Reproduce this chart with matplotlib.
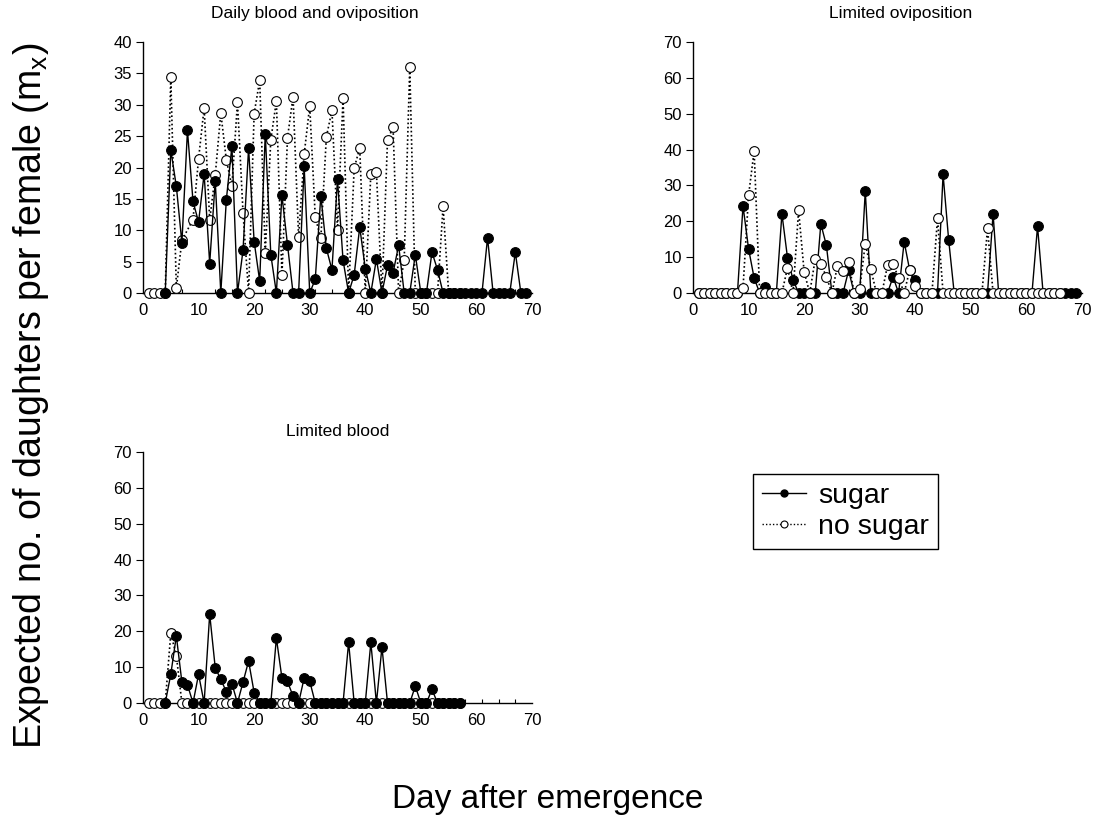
import numpy as np
import matplotlib
matplotlib.use("Agg")
import matplotlib.pyplot as plt
from matplotlib.lines import Line2D
from matplotlib.ticker import FixedLocator

plt.rcParams['font.family'] = ['Liberation Sans', 'DejaVu Sans']
plt.rcParams['mathtext.fontset'] = 'custom'
plt.rcParams['mathtext.rm'] = 'Liberation Sans'

# Daily blood and oviposition
days_a_sugar = list(range(4, 70))
a_sugar = [0, 22.8, 17.0, 8.0, 25.9, 14.6, 11.3, 19.0, 4.7, 17.9,
           0, 14.9, 23.4, 0, 6.8, 23.1, 8.2, 1.9, 25.4, 6.1,
           0, 15.6, 7.7, 0, 0, 20.2, 0, 2.2, 15.5, 7.1,
           3.7, 18.1, 5.2, 0, 2.9, 10.5, 3.9, 0, 5.4, 0,
           4.4, 3.2, 7.6, 0, 0, 6.1, 0, 0, 6.5, 3.7,
           0, 0, 0, 0, 0, 0, 0, 0, 8.8, 0,
           0, 0, 0, 6.5, 0, 0]
days_a_nosugar = [1, 2, 3, 4, 5, 6, 7] + list(range(9, 58))
a_nosugar = [0, 0, 0, 0, 34.4, 0.8, 8.4,
             11.7, 21.4, 29.5, 11.7, 18.8, 28.7, 21.2, 17.0, 30.4, 12.8,
             0, 28.6, 33.9, 6.4, 24.4, 30.6, 2.8, 24.7, 31.3, 8.9,
             22.1, 29.8, 12.1, 8.7, 24.9, 29.1, 10.1, 31.1, 0, 19.9,
             23.1, 0, 19.0, 19.3, 0, 24.4, 26.4, 0, 5.2, 36.0,
             0, 0, 0, 0, 0, 13.8, 0, 0, 0]

# Limited oviposition
days_b_sugar = list(range(1, 70))
b_sugar = [0, 0, 0, 0, 0, 0, 0, 0, 24.3, 12.3,
           4.2, 0, 1.7, 0, 0, 22.1, 9.9, 3.7, 0, 0,
           0, 0, 19.3, 13.3, 0, 0, 0, 6.3, 0, 0,
           28.5, 0, 0, 0, 0, 4.5, 0, 14.3, 6.3, 3.5,
           0, 0, 0, 0, 33.1, 14.9, 0, 0, 0, 0,
           0, 0, 0, 22.1, 0, 0, 0, 0, 0, 0,
           0, 18.6, 0, 0, 0, 0, 0, 0, 0]
days_b_nosugar = list(range(1, 67))
b_nosugar = [0, 0, 0, 0, 0, 0, 0, 0, 1.4, 27.2,
             39.6, 0, 0, 0, 0, 0, 7.0, 0, 23.1, 5.9,
             0, 9.5, 8.2, 4.5, 0, 7.6, 6.2, 8.6, 0, 1.2,
             13.8, 6.7, 0, 0, 7.7, 8.1, 4.2, 0, 6.5, 2.0,
             0, 0, 0, 20.8, 0, 0, 0, 0, 0, 0,
             0, 0, 18.0, 0, 0, 0, 0, 0, 0, 0,
             0, 0, 0, 0, 0, 0]

# Limited blood
days_c_sugar = list(range(4, 58))
c_sugar = [0, 8.0, 18.7, 5.8, 5.1, 0, 8.0, 0, 24.8, 9.8,
           6.6, 3.1, 5.4, 0, 5.8, 11.7, 2.9, 0, 0, 0,
           18.1, 7.0, 6.0, 1.9, 0, 7.0, 6.1, 0, 0, 0,
           0, 0, 0, 16.9, 0, 0, 0, 16.9, 0, 15.6,
           0, 0, 0, 0, 0, 4.7, 0, 0, 3.8, 0,
           0, 0, 0, 0]
days_c_nosugar = list(range(1, 58))
c_nosugar = [0, 0, 0, 0, 19.4, 13.2] + [0] * 51

W, H = 1095, 823
fig = plt.figure(figsize=(W / 100, H / 100), dpi=100)

def px_axes(left, top, right, bottom):
    return fig.add_axes([left / W, 1 - bottom / H, (right - left) / W, (bottom - top) / H])

ax1 = px_axes(143, 42, 532, 293)
ax2 = px_axes(693, 42, 1082, 293)
ax3 = px_axes(143, 452, 532, 703)

ms = 7
sugar_style = dict(color='black', lw=1.0, ls='-', marker='o', ms=ms,
                   mfc='black', mec='black', mew=0.8, clip_on=False)
nosugar_style = dict(color='black', lw=1.2, ls=(0, (1, 1.5)), marker='o', ms=ms,
                     mfc='white', mec='black', mew=0.8, clip_on=False)

# panel 1 and 3: filled on top, panel 2: open on top
ax1.plot(days_a_nosugar, a_nosugar, zorder=3, **nosugar_style)
ax1.plot(days_a_sugar, a_sugar, zorder=4, **sugar_style)
ax2.plot(days_b_sugar, b_sugar, zorder=3, **sugar_style)
ax2.plot(days_b_nosugar, b_nosugar, zorder=4, **nosugar_style)
ax3.plot(days_c_nosugar, c_nosugar, zorder=3, **nosugar_style)
ax3.plot(days_c_sugar, c_sugar, zorder=4, **sugar_style)

titles = [(ax1, 'Daily blood and oviposition', 0.442, 1.112, 40, 5),
          (ax2, 'Limited oviposition', 0.535, 1.112, 70, 10),
          (ax3, 'Limited blood', 0.5, 1.08, 70, 10)]
for ax, title, tx, ty, ymax, ystep in titles:
    ax.set_xlim(0, 70)
    ax.set_ylim(0, ymax)
    ax.spines['top'].set_visible(False)
    ax.spines['right'].set_visible(False)
    ax.spines['left'].set_linewidth(1.0)
    ax.spines['bottom'].set_linewidth(1.0)
    ax.set_xticks(np.arange(0, 71, 10))
    ax.xaxis.set_minor_locator(FixedLocator(np.arange(1, 71, 3)))
    ax.set_yticks(np.arange(0, ymax + 1, ystep))
    ax.tick_params(axis='x', which='major', length=0, pad=7, labelsize=12)
    ax.tick_params(axis='x', which='minor', direction='in', length=3, width=0.8)
    ax.tick_params(axis='y', direction='out', length=5, width=0.8, pad=3, labelsize=12)
    ax.text(tx, ty, title, transform=ax.transAxes, ha='center', va='center', fontsize=12.5)

fig.text(0.028, 0.519, r'Expected no. of daughters per female (m$_\mathregular{x}$)',
         rotation=90, ha='center', va='center', fontsize=27)
fig.text(0.5005, 0.028, 'Day after emergence', ha='center', va='center', fontsize=24)

handles = [Line2D([], [], color='black', lw=1.0, ls='-', marker='o', ms=5,
                  mfc='black', mec='black'),
           Line2D([], [], color='black', lw=1.0, ls=(0, (1, 1.5)), marker='o', ms=5,
                  mfc='white', mec='black', mew=0.8)]
leg = fig.legend(handles, ['sugar', 'no sugar'], loc='upper left',
                 bbox_to_anchor=(753 / W, 1 - 474 / H), fontsize=20.5,
                 frameon=True, fancybox=False, edgecolor='black', framealpha=1,
                 handlelength=1.55, handletextpad=0.45, labelspacing=0.2,
                 borderpad=0.3, borderaxespad=0)
leg.get_frame().set_linewidth(1.0)

fig.savefig('out.png', dpi=100)
